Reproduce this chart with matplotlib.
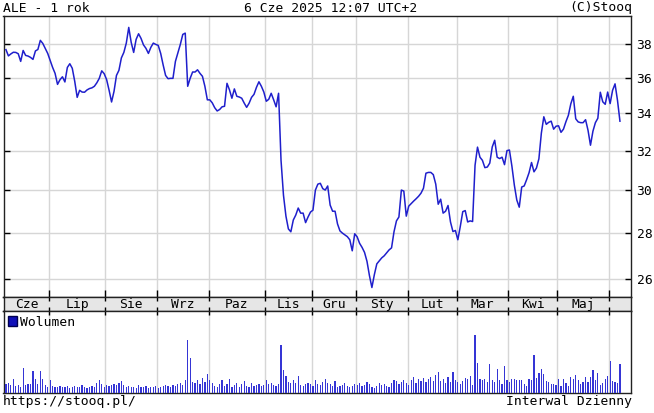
import matplotlib
matplotlib.use("Agg")
import matplotlib.pyplot as plt
import numpy as np

# ALE (Allegro) - 1 rok, notowania dzienne
months = ['Cze', 'Lip', 'Sie', 'Wrz', 'Paz', 'Lis', 'Gru', 'Sty', 'Lut', 'Mar', 'Kwi', 'Maj', '']
days_in_month = [18, 23, 21, 21, 23, 19, 18, 21, 20, 21, 20, 21, 5]
price_ticks = [26, 28, 30, 32, 34, 36, 38]

close = [
    37.68, 37.30, 37.42, 37.52, 37.51, 37.43, 36.97, 37.63, 37.33, 37.29,
    37.21, 37.09, 37.60, 37.69, 38.25, 38.06, 37.76, 37.45, 37.03, 36.61,
    36.26, 35.62, 35.89, 36.06, 35.76, 36.61, 36.83, 36.56, 35.80, 34.88,
    35.28, 35.18, 35.17, 35.30, 35.38, 35.42, 35.51, 35.71, 35.97, 36.41,
    36.24, 35.89, 35.28, 34.62, 35.22, 36.14, 36.44, 37.18, 37.51, 38.08,
    39.06, 38.12, 37.51, 38.31, 38.66, 38.37, 37.97, 37.76, 37.45, 37.82,
    38.08, 38.00, 37.94, 37.45, 36.76, 36.14, 35.95, 35.97, 35.97, 36.97,
    37.48, 38.00, 38.62, 38.70, 35.51, 35.97, 36.34, 36.34, 36.47, 36.26,
    36.09, 35.51, 34.74, 34.74, 34.57, 34.30, 34.12, 34.20, 34.35, 34.38,
    35.68, 35.31, 34.83, 35.36, 34.94, 34.90, 34.83, 34.56, 34.32, 34.55,
    34.88, 35.05, 35.45, 35.77, 35.51, 35.18, 34.66, 34.77, 35.11, 34.74,
    34.35, 35.11, 31.50, 29.77, 28.78, 28.19, 28.06, 28.60, 28.83, 29.16,
    28.92, 28.92, 28.48, 28.74, 28.97, 29.06, 30.02, 30.31, 30.35, 30.09,
    30.02, 30.22, 29.30, 29.01, 29.01, 28.42, 28.10, 28.00, 27.92, 27.84,
    27.70, 27.21, 27.97, 27.83, 27.54, 27.36, 27.14, 26.75, 26.14, 25.64,
    26.18, 26.64, 26.77, 26.90, 26.99, 27.12, 27.25, 27.34, 28.06, 28.56,
    28.74, 30.02, 29.97, 28.78, 29.25, 29.37, 29.49, 29.60, 29.72, 29.87,
    30.11, 30.85, 30.89, 30.89, 30.78, 30.31, 29.34, 29.58, 28.92, 29.01,
    29.28, 28.51, 28.07, 28.12, 27.70, 28.31, 28.99, 29.04, 28.51, 28.56,
    28.53, 31.25, 32.18, 31.66, 31.50, 31.13, 31.16, 31.36, 32.19, 32.54,
    31.66, 31.59, 31.66, 31.28, 32.00, 32.03, 31.21, 30.26, 29.54, 29.20,
    30.17, 30.22, 30.53, 30.88, 31.39, 30.92, 31.11, 31.58, 32.92, 33.80,
    33.39, 33.50, 33.56, 33.13, 33.29, 33.31, 32.96, 33.13, 33.53, 33.88,
    34.52, 34.94, 33.69, 33.52, 33.48, 33.48, 33.64, 33.07, 32.28, 33.02,
    33.48, 33.72, 35.17, 34.63, 34.49, 35.18, 34.53, 35.28, 35.65, 34.71,
    33.56,
]

# wolumen (wzgledne jednostki)
volume = [
    8, 9, 7, 13, 6, 7, 5, 24, 7, 8, 8, 21, 13, 8, 21, 13, 7, 5, 12, 6,
    5, 5, 6, 5, 5, 6, 4, 5, 6, 5, 5, 7, 5, 4, 5, 6, 5, 9, 12, 8,
    5, 7, 6, 7, 8, 7, 9, 11, 7, 5, 6, 5, 5, 4, 7, 5, 5, 6, 4, 5,
    5, 6, 4, 5, 6, 7, 6, 5, 7, 6, 8, 9, 7, 12,
    52, 34, 10, 9, 12, 8, 14, 10, 18, 12, 9,
    6, 5, 8, 12, 6, 8, 13, 5, 7, 9, 5, 8, 11, 6, 5, 9, 6, 7, 8, 6, 7, 12, 8, 9, 7, 6, 8,
    47, 22, 16, 10, 9, 12, 9, 16, 7, 6, 8,
    9, 8, 6, 12, 8, 7, 10, 13, 9, 8, 6, 11, 5, 6, 7, 9, 6, 5,
    6, 8, 7, 9, 6, 7, 10, 8, 5, 4, 6, 9, 7, 8, 6, 5, 9, 12, 11, 8,
    10, 12, 9, 7, 12, 15, 9, 13, 11, 14, 10, 13, 15, 11, 17, 20, 11, 13, 9,
    15, 10, 20, 12, 10, 8, 11, 14, 13, 16, 7,
    57, 29, 13, 12, 13, 10, 28, 12, 10, 23, 12, 8, 26, 12,
    10, 13, 13, 12, 12, 12, 8, 6, 13, 12,
    37, 14, 19, 23, 18, 11,
    10, 8, 8, 7, 13, 6, 13, 9, 6, 15, 13, 17, 12, 8, 10, 15, 10, 15, 22, 12,
    19, 7, 9, 13, 16, 31, 11, 10, 9, 28,
]
assert len(close) == sum(days_in_month), len(close)
assert len(volume) == len(close), len(volume)

n = len(close)
x = np.arange(n)
starts = np.concatenate([[0], np.cumsum(days_in_month)[:-1]])
bounds = starts[1:] - 0.5
centers = starts + (np.array(days_in_month) - 1) / 2.0

MONO = 'DejaVu Sans Mono'
FS = 9.4
LINE = '#1f1fcc'
GRID = '#d6d6d6'

W, H = 654, 413
fig = plt.figure(figsize=(W / 100, H / 100), dpi=100)


def box(l, t, r, b):
    return [l / W, 1 - b / H, (r - l) / W, (b - t) / H]


xlim = (-1.0, 254.5)

# --- panel cen ---
ax = fig.add_axes(box(3.5, 15.5, 631, 297))
ax.plot(x, close, color=LINE, lw=1.1, zorder=3)
ax.set_yscale('log')
ax.set_ylim(25.25, 39.82)
ax.set_xlim(*xlim)
ax.set_yticks(price_ticks)
ax.set_yticklabels([str(t) for t in price_ticks], fontfamily=MONO, fontsize=FS)
ax.minorticks_off()
ax.set_xticks(bounds)
ax.set_xticklabels([])
ax.grid(True, color=GRID, lw=1, zorder=0)
ax.tick_params(axis='y', left=True, right=True, labelleft=False, labelright=True,
               direction='in', length=4, width=1, pad=4)
ax.tick_params(axis='x', bottom=True, top=False, direction='in', length=5, width=1)

# --- pasek z miesiacami ---
strip = fig.add_axes(box(3.5, 297, 631, 311))
strip.set_facecolor('#e6e6e6')
strip.set_xlim(*xlim)
strip.set_ylim(0, 1)
strip.set_yticks([])
strip.set_xticks(bounds)
strip.set_xticklabels([])
strip.tick_params(axis='x', bottom=True, top=True, direction='in', length=3, width=1)
for c, m in zip(centers, months):
    strip.text(c, 0.45, m, ha='center', va='center', fontfamily=MONO, fontsize=FS)

# --- wolumen ---
axv = fig.add_axes(box(3.5, 311, 631, 392.5))
axv.bar(x, volume, width=0.5, color='#3535d5', edgecolor='none', label='Wolumen', zorder=3)
axv.set_xlim(*xlim)
axv.set_ylim(0, 81)
axv.set_yticks([])
axv.set_xticks(bounds)
axv.set_xticklabels([])
axv.grid(True, axis='x', color=GRID, lw=1, zorder=0)
axv.tick_params(axis='x', bottom=False, top=True, direction='in', length=3, width=1)
leg = axv.legend(loc='upper left', frameon=False, handlelength=0.7, handleheight=0.7,
                 handletextpad=0.2, borderaxespad=0.25, borderpad=0.1,
                 prop={'family': MONO, 'size': FS})
for h in leg.legend_handles:
    h.set_color('#1010b8')
    h.set_edgecolor('#000050')

for a in (ax, strip, axv):
    for s in a.spines.values():
        s.set_color('#222222')
        s.set_linewidth(1)

# --- napisy ---
fig.text(3 / W, 1 - 8 / H, 'ALE - 1 rok', ha='left', va='center', fontfamily=MONO, fontsize=FS)
fig.text(331 / W, 1 - 8 / H, '6 Cze 2025 12:07 UTC+2', ha='center', va='center',
         fontfamily=MONO, fontsize=FS)
fig.text(632 / W, 1 - 8 / H, '(C)Stooq', ha='right', va='center', fontfamily=MONO, fontsize=FS)
fig.text(3 / W, 1 - 402 / H, 'https://stooq.pl/', ha='left', va='center',
         fontfamily=MONO, fontsize=FS)
fig.text(632 / W, 1 - 402 / H, 'Interwal Dzienny', ha='right', va='center',
         fontfamily=MONO, fontsize=FS)

fig.savefig('out.png', dpi=100, facecolor='white')
